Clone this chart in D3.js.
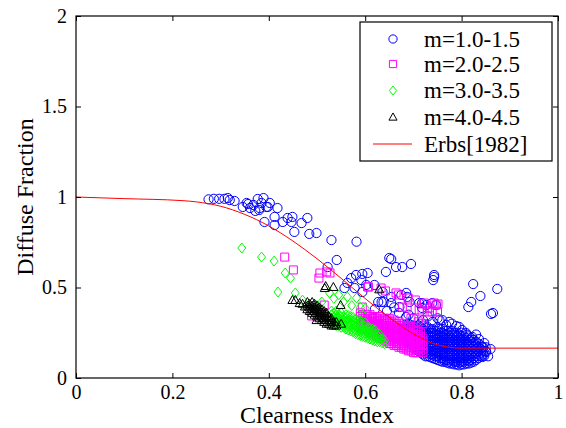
<!DOCTYPE html>
<html><head><meta charset="utf-8">
<script src="https://d3js.org/d3.v7.min.js"></script>
<style>
body{margin:0;background:#fff}
svg{display:block}
</style>
</head><body>
<svg id="c" width="566" height="428"></svg>
<script>
// ---------- data ----------
const xTicks = [0, 0.2, 0.4, 0.6, 0.8, 1];
const xTickLabels = ["0", "0.2", "0.4", "0.6", "0.8", "1"];
const yTicks = [0, 0.5, 1, 1.5, 2];
const yTickLabels = ["0", "0.5", "1", "1.5", "2"];
const xTitle = "Clearness Index";
const yTitle = "Diffuse Fraction";
const seriesNames = ["m=1.0-1.5", "m=2.0-2.5", "m=3.0-3.5", "m=4.0-4.5"];
const curveName = "Erbs[1982]";

// Erbs [1982] curve
const erbsKt = [0, 0.1, 0.22, 0.25, 0.3, 0.35, 0.4, 0.45, 0.5, 0.55, 0.6, 0.65, 0.7, 0.75, 0.8, 1.0];
const erbsKd = [1.0, 0.991, 0.980, 0.973, 0.949, 0.904, 0.840, 0.757, 0.659, 0.551, 0.439, 0.334, 0.244, 0.183, 0.165, 0.165];

// m = 1.0-1.5 (blue circles)
const blueScatter = [
 [0.275,0.987],[0.286,0.99],[0.297,0.99],[0.308,0.99],[0.315,0.994],[0.319,0.983],[0.329,0.978],
 [0.346,0.945],[0.354,0.967],[0.357,0.961],[0.361,0.939],[0.368,0.956],[0.372,0.923],[0.377,0.989],
 [0.38,0.928],[0.381,0.939],[0.385,0.967],[0.389,0.994],[0.395,0.945],[0.398,0.945],[0.402,0.967],
 [0.391,0.862],[0.412,0.89],[0.412,0.845],[0.418,0.939],[0.429,0.862],[0.439,0.884],[0.449,0.89],
 [0.447,0.862],[0.453,0.807],[0.468,0.856],[0.48,0.884],[0.484,0.796],[0.499,0.801],[0.53,0.762],
 [0.582,0.753],[0.541,0.652],[0.522,0.613],
 [0.65,0.663],[0.654,0.657],[0.643,0.586],[0.664,0.613],[0.677,0.613],[0.695,0.63],[0.743,0.558],
 [0.743,0.569],[0.741,0.541],[0.571,0.552],[0.581,0.569],[0.594,0.575],[0.605,0.58],[0.563,0.525],
 [0.592,0.541],[0.602,0.514],[0.619,0.514],[0.578,0.497],[0.594,0.475],[0.636,0.475],[0.654,0.448],
 [0.675,0.459],[0.687,0.448],[0.634,0.42],[0.654,0.414],[0.671,0.392],[0.692,0.42],[0.712,0.414],
 [0.727,0.403],[0.557,0.497],[0.627,0.42],[0.638,0.42],[0.685,0.47],[0.685,0.337],[0.718,0.387],
 [0.824,0.519],[0.874,0.492],[0.839,0.453],[0.82,0.42],[0.814,0.392],[0.861,0.354],[0.865,0.359],
 [0.718,0.414],[0.747,0.403],[0.739,0.414],[0.768,0.293],[0.789,0.287],[0.801,0.265],[0.822,0.227],
 [0.836,0.215],[0.847,0.193],[0.851,0.144],[0.847,0.122],[0.774,0.31],[0.76,0.32],[0.7,0.33],
 [0.72,0.32],[0.74,0.31],[0.67,0.36],[0.69,0.35],[0.66,0.39],[0.62,0.38],[0.645,0.37],[0.73,0.34],
 [0.75,0.33],[0.78,0.3],[0.795,0.282],[0.809,0.249],[0.83,0.24],[0.843,0.171],[0.86,0.16],
 [0.855,0.12],[0.843,0.116],[0.754,0.32]
];
const blueDense = [
 [0.68,[0.25,0.27,0.29]],
 [0.685,[0.23,0.25,0.27,0.29]],
 [0.69,[0.20,0.22,0.24,0.26,0.28,0.30]],
 [0.695,[0.19,0.21,0.23,0.25,0.27,0.29]],
 [0.70,[0.17,0.19,0.21,0.23,0.25,0.27,0.29]],
 [0.705,[0.16,0.18,0.20,0.22,0.24,0.26,0.28]],
 [0.71,[0.15,0.17,0.19,0.21,0.23,0.25,0.27,0.29]],
 [0.715,[0.14,0.16,0.18,0.20,0.22,0.24,0.26,0.28]],
 [0.72,[0.13,0.15,0.17,0.19,0.21,0.23,0.25,0.27,0.29]],
 [0.725,[0.12,0.14,0.16,0.18,0.20,0.22,0.24,0.26,0.28]],
 [0.73,[0.12,0.14,0.16,0.18,0.20,0.22,0.24,0.26,0.28]],
 [0.735,[0.115,0.13,0.15,0.17,0.19,0.21,0.23,0.25,0.27]],
 [0.74,[0.11,0.13,0.15,0.17,0.19,0.21,0.23,0.25,0.27]],
 [0.745,[0.105,0.12,0.14,0.16,0.18,0.20,0.22,0.24,0.26]],
 [0.75,[0.10,0.12,0.14,0.16,0.18,0.20,0.22,0.24,0.26,0.28]],
 [0.755,[0.095,0.11,0.13,0.15,0.17,0.19,0.21,0.23,0.25,0.27]],
 [0.76,[0.09,0.11,0.13,0.15,0.17,0.19,0.21,0.23,0.25,0.27]],
 [0.765,[0.09,0.10,0.12,0.14,0.16,0.18,0.20,0.22,0.24,0.26]],
 [0.77,[0.085,0.10,0.12,0.14,0.16,0.18,0.20,0.22,0.24,0.26]],
 [0.775,[0.08,0.09,0.11,0.13,0.15,0.17,0.19,0.21,0.23,0.25]],
 [0.78,[0.08,0.10,0.12,0.14,0.16,0.18,0.20,0.22,0.24,0.26]],
 [0.785,[0.075,0.09,0.11,0.13,0.15,0.17,0.19,0.21,0.23,0.25]],
 [0.79,[0.075,0.09,0.11,0.13,0.15,0.17,0.19,0.21,0.23,0.25]],
 [0.795,[0.07,0.085,0.10,0.12,0.14,0.16,0.18,0.20,0.22,0.24]],
 [0.80,[0.075,0.09,0.11,0.13,0.15,0.17,0.19,0.21,0.23,0.25]],
 [0.805,[0.075,0.09,0.11,0.13,0.15,0.17,0.19,0.21,0.23]],
 [0.81,[0.08,0.10,0.12,0.14,0.16,0.18,0.20,0.22,0.24]],
 [0.815,[0.08,0.095,0.11,0.13,0.15,0.17,0.19,0.21,0.23]],
 [0.82,[0.085,0.10,0.12,0.14,0.16,0.18,0.20,0.22]],
 [0.825,[0.09,0.11,0.13,0.15,0.17,0.19,0.21]],
 [0.83,[0.10,0.12,0.14,0.16,0.18,0.20]],
 [0.835,[0.11,0.13,0.15,0.17,0.19]],
 [0.84,[0.12,0.14,0.16,0.18]],
 [0.845,[0.13,0.15,0.17]],
 [0.85,[0.15,0.17]]
];

// m = 2.0-2.5 (magenta squares)
const magentaScatter = [
 [0.433,0.668],[0.451,0.597],[0.506,0.58],[0.527,0.58],[0.504,0.552],[0.607,0.503],[0.633,0.497],
 [0.642,0.481],[0.669,0.459],[0.689,0.442],[0.704,0.431],[0.751,0.409],[0.723,0.414],[0.743,0.414],
 [0.729,0.365],[0.718,0.365],[0.739,0.365],[0.75,0.365],[0.687,0.387],[0.677,0.392],[0.712,0.376],
 [0.733,0.387],[0.747,0.403],[0.594,0.392],[0.515,0.403],[0.489,0.343],[0.71,0.31],[0.664,0.47],
 [0.605,0.503],[0.52,0.586],[0.71,0.21],[0.695,0.33],[0.72,0.30]
];
const magentaDense = [
 [0.59,[0.28,0.30,0.32,0.34,0.36]],
 [0.595,[0.27,0.29,0.31,0.33,0.35]],
 [0.60,[0.27,0.29,0.31,0.33,0.35]],
 [0.605,[0.26,0.28,0.30,0.32,0.34]],
 [0.61,[0.25,0.27,0.29,0.31,0.33,0.35]],
 [0.615,[0.25,0.27,0.29,0.31,0.33]],
 [0.62,[0.24,0.26,0.28,0.30,0.32,0.34]],
 [0.625,[0.23,0.25,0.27,0.29,0.31,0.33]],
 [0.63,[0.22,0.24,0.26,0.28,0.30,0.32,0.34]],
 [0.635,[0.22,0.24,0.26,0.28,0.30,0.32]],
 [0.64,[0.21,0.23,0.25,0.27,0.29,0.31,0.33]],
 [0.645,[0.20,0.22,0.24,0.26,0.28,0.30,0.32]],
 [0.65,[0.19,0.21,0.23,0.25,0.27,0.29,0.31,0.33]],
 [0.655,[0.19,0.21,0.23,0.25,0.27,0.29,0.31]],
 [0.66,[0.18,0.20,0.22,0.24,0.26,0.28,0.30,0.32]],
 [0.665,[0.18,0.20,0.22,0.24,0.26,0.28,0.30]],
 [0.67,[0.17,0.19,0.21,0.23,0.25,0.27,0.29,0.31]],
 [0.675,[0.17,0.19,0.21,0.23,0.25,0.27,0.29]],
 [0.68,[0.16,0.18,0.20,0.22,0.24,0.26,0.28,0.30]],
 [0.685,[0.16,0.18,0.20,0.22,0.24,0.26,0.28]],
 [0.69,[0.15,0.17,0.19,0.21,0.23,0.25,0.27,0.29]],
 [0.695,[0.15,0.17,0.19,0.21,0.23,0.25,0.27]],
 [0.70,[0.14,0.16,0.18,0.20,0.22,0.24,0.26,0.28]],
 [0.705,[0.14,0.16,0.18,0.20,0.22,0.24,0.26]],
 [0.71,[0.14,0.16,0.18,0.20,0.22,0.24,0.26]],
 [0.715,[0.15,0.17,0.19,0.21,0.23,0.25]],
 [0.72,[0.14,0.16,0.18,0.20,0.22]]
];

// m = 3.0-3.5 (green diamonds)
const greenScatter = [
 [0.344,0.718],[0.385,0.668],[0.411,0.646],[0.434,0.58],[0.445,0.552],[0.419,0.475],[0.455,0.47],
 [0.47,0.43],[0.526,0.47],[0.545,0.459],[0.563,0.448],[0.582,0.442],[0.50,0.40],[0.51,0.42],
 [0.572,0.40],[0.59,0.39],[0.60,0.385],[0.535,0.44],[0.555,0.42]
];
const greenDense = [
 [0.53,[0.31,0.33,0.35,0.37]],
 [0.535,[0.30,0.32,0.34,0.36]],
 [0.54,[0.29,0.31,0.33,0.35,0.37]],
 [0.545,[0.29,0.31,0.33,0.35]],
 [0.55,[0.28,0.30,0.32,0.34,0.36]],
 [0.555,[0.28,0.30,0.32,0.34]],
 [0.56,[0.27,0.29,0.31,0.33,0.35]],
 [0.565,[0.265,0.285,0.305,0.325,0.345]],
 [0.57,[0.26,0.28,0.30,0.32,0.34]],
 [0.575,[0.255,0.275,0.295,0.315,0.335]],
 [0.58,[0.245,0.265,0.285,0.305,0.325]],
 [0.585,[0.24,0.26,0.28,0.30,0.32]],
 [0.59,[0.235,0.255,0.275,0.295,0.315]],
 [0.595,[0.23,0.25,0.27,0.29]],
 [0.60,[0.225,0.245,0.265,0.285,0.305]],
 [0.605,[0.22,0.24,0.26,0.28]],
 [0.61,[0.215,0.235,0.255,0.275]],
 [0.615,[0.21,0.23,0.25,0.27]],
 [0.62,[0.205,0.225,0.245,0.265]],
 [0.625,[0.20,0.22,0.24]],
 [0.63,[0.20,0.22,0.24]],
 [0.635,[0.195,0.215]],
 [0.64,[0.19,0.21]]
];

// m = 4.0-4.5 (black triangles)
const blackScatter = [
 [0.449,0.431],[0.464,0.414],[0.455,0.431],[0.47,0.41],[0.518,0.508],[0.534,0.503],[0.629,0.49],
 [0.549,0.403],[0.475,0.395],[0.499,0.32],[0.516,0.497]
];
const blackDense = [
 [0.48,[0.38,0.40,0.42]],
 [0.485,[0.37,0.39,0.41]],
 [0.49,[0.36,0.38,0.40,0.42]],
 [0.495,[0.35,0.37,0.39,0.41]],
 [0.50,[0.34,0.36,0.38,0.40]],
 [0.505,[0.33,0.35,0.37,0.39]],
 [0.51,[0.32,0.34,0.36,0.38]],
 [0.515,[0.31,0.33,0.35,0.37]],
 [0.52,[0.30,0.32,0.34,0.36]],
 [0.525,[0.30,0.32,0.34]],
 [0.53,[0.29,0.31,0.33]],
 [0.535,[0.29,0.31]],
 [0.54,[0.29,0.31]],
 [0.55,[0.30]]
];

// ---------- build ----------
function flat(scatter, dense) {
  const out = scatter.map(d => ({kt: d[0], kd: d[1]}));
  dense.forEach(c => c[1].forEach(v => out.push({kt: c[0], kd: v})));
  return out;
}
const series = [
  {name: seriesNames[0], color: "#0000ff", shape: "circle",   pts: flat(blueScatter, blueDense)},
  {name: seriesNames[1], color: "#ff00ff", shape: "square",   pts: flat(magentaScatter, magentaDense)},
  {name: seriesNames[2], color: "#00ff00", shape: "diamond",  pts: flat(greenScatter, greenDense)},
  {name: seriesNames[3], color: "#000000", shape: "triangle", pts: flat(blackScatter, blackDense)}
];

const FONT = "Liberation Serif, LiberationSerif, DejaVu Serif, Noto Serif, Tinos, Times New Roman, Times, FreeSerif, Nimbus Roman, serif";
const L = 76, R = 558, T = 16, B = 378;
const x = d3.scaleLinear().domain([0, 1]).range([L, R]);
const y = d3.scaleLinear().domain([0, 2]).range([B, T]);
const svg = d3.select("#c").attr("font-family", FONT);

function markerPath(shape, s) {
  switch (shape) {
    case "square":   return `M${-4*s},${-4*s}h${8*s}v${8*s}h${-8*s}Z`;
    case "diamond":  return `M0,${-5*s}L${4*s},0L0,${5*s}L${-4*s},0Z`;
    default:         return `M0,${-4.5*s}L${4.5*s},${3.5*s}L${-4.5*s},${3.5*s}Z`;
  }
}
function drawMarker(g, shape, color, cx, cy, s) {
  if (shape === "circle") {
    g.append("circle").attr("cx", cx).attr("cy", cy).attr("r", 4.6 * s)
      .attr("fill", "none").attr("stroke", color).attr("stroke-width", 1);
  } else {
    g.append("path").attr("d", markerPath(shape, s)).attr("transform", `translate(${cx},${cy})`)
      .attr("fill", "none").attr("stroke", color).attr("stroke-width", 1);
  }
}

svg.append("clipPath").attr("id", "clip").append("rect")
  .attr("x", L).attr("y", T).attr("width", R - L).attr("height", B - T);

const plot = svg.append("g").attr("clip-path", "url(#clip)");
series.forEach(sr => {
  const g = plot.append("g");
  sr.pts.forEach(p => drawMarker(g, sr.shape, sr.color, x(p.kt), y(p.kd), 1));
});

const erbs = erbsKt.map((k, i) => [k, erbsKd[i]]);
plot.append("path").datum(erbs)
  .attr("d", d3.line().x(d => x(d[0])).y(d => y(d[1])).curve(d3.curveMonotoneX))
  .attr("fill", "none").attr("stroke", "#ff0000").attr("stroke-width", 1);

const fs = 20;
const xAxis = d3.axisBottom(x).tickValues(xTicks).tickSize(-5).tickPadding(7)
  .tickFormat((d, i) => xTickLabels[i]);
const gx = svg.append("g").attr("transform", `translate(0,${B})`).call(xAxis);
const yAxis = d3.axisLeft(y).tickValues(yTicks).tickSize(-5).tickPadding(9)
  .tickFormat((d, i) => yTickLabels[i]);
const gy = svg.append("g").attr("transform", `translate(${L},0)`).call(yAxis);
const xTop = d3.axisTop(x).tickValues(xTicks).tickSize(-5).tickFormat("");
const gxt = svg.append("g").attr("transform", `translate(0,${T})`).call(xTop);
const yRight = d3.axisRight(y).tickValues(yTicks).tickSize(-5).tickFormat("");
const gyr = svg.append("g").attr("transform", `translate(${R},0)`).call(yRight);
[gx, gy, gxt, gyr].forEach(g => {
  g.attr("font-family", FONT);
  g.select(".domain").remove();
  g.selectAll(".tick line").attr("stroke", "#000");
  g.selectAll("text").attr("font-family", FONT).attr("font-size", fs).attr("fill", "#000");
});

svg.append("rect").attr("x", L).attr("y", T).attr("width", R - L).attr("height", B - T)
  .attr("fill", "none").attr("stroke", "#000").attr("stroke-width", 1.2);

svg.append("text").attr("x", (L + R) / 2).attr("y", 423).attr("text-anchor", "middle")
  .attr("font-family", FONT).attr("font-size", 24).attr("fill", "#000").text(xTitle);
svg.append("text").attr("transform", `translate(33,${(T + B) / 2}) rotate(-90)`)
  .attr("text-anchor", "middle").attr("font-family", FONT).attr("font-size", 24)
  .attr("fill", "#000").text(yTitle);

const lg = svg.append("g");
lg.append("rect").attr("x", 360).attr("y", 22).attr("width", 192).attr("height", 139)
  .attr("fill", "#fff").attr("stroke", "#000").attr("stroke-width", 1.2);
const rowY = [39, 64, 90.5, 117, 144];
series.forEach((sr, i) => {
  drawMarker(lg, sr.shape, sr.color, 393, rowY[i], 0.9);
  lg.append("text").attr("x", 424).attr("y", rowY[i] + 7.5).attr("font-family", FONT)
    .attr("font-size", 23).attr("fill", "#000").text(sr.name);
});
lg.append("line").attr("x1", 373).attr("x2", 412).attr("y1", rowY[4]).attr("y2", rowY[4])
  .attr("stroke", "#ff0000").attr("stroke-width", 1);
lg.append("text").attr("x", 424).attr("y", rowY[4] + 7.5).attr("font-family", FONT)
  .attr("font-size", 23).attr("fill", "#000").text(curveName);
</script>
</body></html>
